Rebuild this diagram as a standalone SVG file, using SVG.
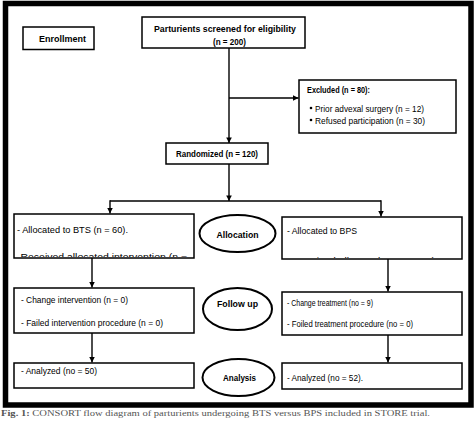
<svg xmlns="http://www.w3.org/2000/svg" width="474" height="424" viewBox="0 0 474 424">
<style>
.box{fill:#fff;stroke:#000;stroke-width:1.5}
.ell{fill:#fff;stroke:#000;stroke-width:2}
.ln{fill:none;stroke:#000;stroke-width:1.4}
.t{font-family:"Liberation Sans",Arial,sans-serif;font-size:9.5px;fill:#000}
.b{font-weight:bold}
.s{font-size:8.5px}
.cap{font-family:"Liberation Serif","Times New Roman",serif;font-size:8px;fill:#555}
</style>
<defs>
<marker id="ah" viewBox="0 0 10 10" refX="10" refY="5" markerWidth="4" markerHeight="4" orient="auto" markerUnits="strokeWidth">
<path d="M0,0 L10,5 L0,10 z" fill="#000"/>
</marker>
<clipPath id="c1"><rect x="14" y="214" width="180" height="43"/></clipPath>
<clipPath id="c2"><rect x="282" y="217" width="180" height="41"/></clipPath>
</defs>
<rect x="0" y="0" width="474" height="424" fill="#fff"/>
<rect x="5.5" y="3.5" width="465.5" height="401.5" fill="none" stroke="#000" stroke-width="5.5"/>

<g id="connectors">
<line class="ln" x1="229" y1="48" x2="229" y2="143" marker-end="url(#ah)"/>
<line class="ln" x1="229" y1="98" x2="298.5" y2="98" marker-end="url(#ah)"/>
<line class="ln" x1="229" y1="164" x2="229" y2="201" marker-end="url(#ah)"/>
<line class="ln" x1="110" y1="201" x2="381" y2="201"/>
<line class="ln" x1="110" y1="200.3" x2="110" y2="213.5" marker-end="url(#ah)"/>
<line class="ln" x1="381" y1="200.3" x2="381" y2="216.5" marker-end="url(#ah)"/>
<line class="ln" x1="92" y1="258" x2="92" y2="287.5" marker-end="url(#ah)"/>
<line class="ln" x1="388" y1="259" x2="388" y2="291.5" marker-end="url(#ah)"/>
<line class="ln" x1="92" y1="333" x2="92" y2="362.5" marker-end="url(#ah)"/>
<line class="ln" x1="388" y1="335" x2="388" y2="362.5" marker-end="url(#ah)"/>
</g>

<g id="enrollment">
<rect class="box" x="23" y="27" width="71" height="22.5"/>
<text class="t b" x="39" y="41.5" textLength="47" lengthAdjust="spacingAndGlyphs">Enrollment</text>
</g>

<g id="screened">
<rect class="box" x="142" y="17" width="163" height="31"/>
<text class="t b" x="225" y="31.5" text-anchor="middle" textLength="142" lengthAdjust="spacingAndGlyphs">Parturients screened for eligibility</text>
<text class="t b" x="229.5" y="45" text-anchor="middle" textLength="33" lengthAdjust="spacingAndGlyphs">(n = 200)</text>
</g>

<g id="excluded">
<rect class="box" x="299" y="80" width="157" height="53"/>
<text class="t b" x="307" y="92.5" textLength="63" lengthAdjust="spacingAndGlyphs">Excluded (n = 80):</text>
<circle cx="311" cy="108" r="1.3" fill="#000"/>
<circle cx="311" cy="120" r="1.3" fill="#000"/>
<text class="t" x="315" y="111.5" textLength="109" lengthAdjust="spacingAndGlyphs">Prior advexal surgery (n = 12)</text>
<text class="t" x="315" y="123.5" textLength="110" lengthAdjust="spacingAndGlyphs">Refused participation (n = 30)</text>
</g>

<g id="randomized">
<rect class="box" x="166" y="143" width="102" height="21"/>
<text class="t b" x="176" y="156.5" textLength="82" lengthAdjust="spacingAndGlyphs">Randomized (n = 120)</text>
</g>

<g id="alloc-bts">
<rect class="box" x="14" y="214" width="180" height="44"/>
<text class="t" x="17" y="232.5" textLength="111" lengthAdjust="spacingAndGlyphs">- Allocated to BTS (n = 60).</text>
<text class="t" x="17" y="260" textLength="170" lengthAdjust="spacingAndGlyphs" clip-path="url(#c1)">-Received  allocated  intervention  (n  =</text>
</g>

<g id="allocation">
<ellipse class="ell" cx="237.5" cy="233.5" rx="38" ry="18.5"/>
<text class="t b" x="237.5" y="237.5" text-anchor="middle" textLength="42" lengthAdjust="spacingAndGlyphs">Allocation</text>
</g>

<g id="alloc-bps">
<rect class="box" x="282" y="217" width="180" height="42"/>
<text class="t" x="287" y="233.5" textLength="70" lengthAdjust="spacingAndGlyphs">- Allocated to BPS</text>
<text class="t" x="289" y="264" textLength="165" lengthAdjust="spacingAndGlyphs" clip-path="url(#c2)">-Received  allocated  treatment  (no  =</text>
</g>

<g id="followup-bts">
<rect class="box" x="14" y="288" width="180" height="45"/>
<text class="t" x="21" y="302.5" textLength="107" lengthAdjust="spacingAndGlyphs">- Change intervention (n = 0)</text>
<text class="t" x="21" y="325.5" textLength="142" lengthAdjust="spacingAndGlyphs">- Failed intervention procedure (n = 0)</text>
</g>

<g id="followup">
<ellipse class="ell" cx="237.5" cy="309" rx="34.5" ry="21"/>
<text class="t b" x="237.5" y="306.5" text-anchor="middle" textLength="41" lengthAdjust="spacingAndGlyphs">Follow up</text>
</g>

<g id="followup-bps">
<rect class="box" x="282" y="292" width="180" height="43"/>
<text class="t s" x="287" y="306" textLength="86" lengthAdjust="spacingAndGlyphs">- Change treatment (no = 9)</text>
<text class="t s" x="287" y="327" textLength="126" lengthAdjust="spacingAndGlyphs">- Foiled treatment procedure (no = 0)</text>
</g>

<g id="analysis-bts">
<rect class="box" x="14" y="363" width="180" height="25"/>
<text class="t" x="21" y="373.5" textLength="76" lengthAdjust="spacingAndGlyphs">- Analyzed (no = 50)</text>
</g>

<g id="analysis">
<ellipse class="ell" cx="238.5" cy="377.5" rx="36" ry="18.5"/>
<text class="t b" x="239.5" y="381" text-anchor="middle" textLength="33" lengthAdjust="spacingAndGlyphs">Analysis</text>
</g>

<g id="analysis-bps">
<rect class="box" x="282" y="363" width="180" height="26"/>
<text class="t" x="287" y="380.5" textLength="76" lengthAdjust="spacingAndGlyphs">- Analyzed (no = 52).</text>
</g>

<text class="cap" x="1" y="416" textLength="429" lengthAdjust="spacingAndGlyphs"><tspan font-weight="bold">Fig. 1:</tspan> CONSORT flow diagram of parturients undergoing  BTS versus BPS included in  STORE  trial.</text>
</svg>
